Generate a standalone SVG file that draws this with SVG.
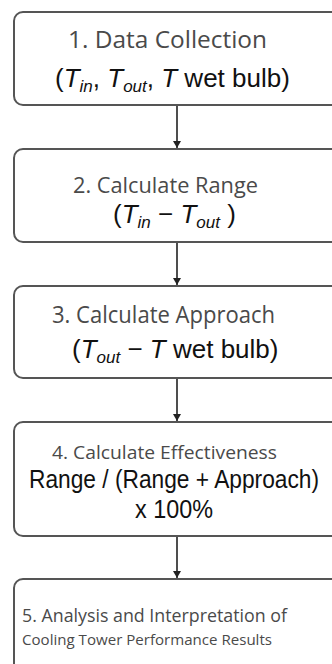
<svg xmlns="http://www.w3.org/2000/svg" width="332" height="664" viewBox="0 0 332 664">
<defs>
<style>
.box{fill:#fff;stroke:#555;stroke-width:2}
.h{font-family:"Open Sans","Liberation Sans",sans-serif;fill:#4a4a4a}
.f{font-family:"Liberation Sans",Arial,sans-serif;fill:#111;font-size:26px}
.i{font-style:italic}
.s{font-style:italic;font-size:17px}
.con{stroke:#222;stroke-width:1.6;fill:none}
</style>
<marker id="ah2" markerUnits="userSpaceOnUse" markerWidth="8" markerHeight="8" refX="4" refY="7" viewBox="0 0 8 8" orient="0">
<path d="M0,0 L8,0 L4,7 Z" fill="#222"/>
</marker>
</defs>
<rect width="332" height="664" fill="#fff"/>
<g id="connectors">
<line class="con" x1="177" y1="105" x2="177" y2="148" marker-end="url(#ah2)"/>
<line class="con" x1="177" y1="242" x2="177" y2="285" marker-end="url(#ah2)"/>
<line class="con" x1="177" y1="378" x2="177" y2="421" marker-end="url(#ah2)"/>
<line class="con" x1="177" y1="536" x2="177" y2="578" marker-end="url(#ah2)"/>
</g>
<g id="node1">
<rect class="box" x="14" y="12" width="330" height="93" rx="9"/>
<text class="h" x="68" y="48" font-size="23" textLength="199" lengthAdjust="spacingAndGlyphs">1. Data Collection</text>
<text class="f" x="55" y="87">(<tspan class="i">T</tspan><tspan class="s" dy="5">in</tspan><tspan dy="-5">, </tspan><tspan class="i">T</tspan><tspan class="s" dy="5">out</tspan><tspan dy="-5">, </tspan><tspan class="i">T</tspan> wet bulb)</text>
</g>
<g id="node2">
<rect class="box" x="14" y="149" width="330" height="93" rx="9"/>
<text class="h" x="73" y="193" font-size="22" textLength="185" lengthAdjust="spacingAndGlyphs">2. Calculate Range</text>
<text class="f" x="113" y="223">(<tspan class="i">T</tspan><tspan class="s" dy="5">in</tspan><tspan dy="-5"> − </tspan><tspan class="i">T</tspan><tspan class="s" dy="5">out</tspan><tspan dy="-5"> )</tspan></text>
</g>
<g id="node3">
<rect class="box" x="14" y="286" width="330" height="92" rx="9"/>
<text class="h" x="52" y="323" font-size="23" textLength="223" lengthAdjust="spacingAndGlyphs">3. Calculate Approach</text>
<text class="f" x="72" y="358">(<tspan class="i">T</tspan><tspan class="s" dy="5">out</tspan><tspan dy="-5"> − </tspan><tspan class="i">T</tspan> wet bulb)</text>
</g>
<g id="node4">
<rect class="box" x="14" y="422" width="330" height="114" rx="9"/>
<text class="h" x="52" y="459" font-size="18" textLength="225" lengthAdjust="spacingAndGlyphs">4. Calculate Effectiveness</text>
<text class="f" x="29" y="488" font-size="22" textLength="290" lengthAdjust="spacingAndGlyphs">Range / (Range + Approach)</text>
<text class="f" x="135" y="518" font-size="23" textLength="78" lengthAdjust="spacingAndGlyphs">x 100%</text>
</g>
<g id="node5">
<rect class="box" x="14" y="579" width="330" height="100" rx="9"/>
<text class="h" x="22" y="622" font-size="19" textLength="265" lengthAdjust="spacingAndGlyphs">5. Analysis and Interpretation of</text>
<text class="h" x="22" y="645" font-size="14" textLength="250" lengthAdjust="spacingAndGlyphs">Cooling Tower Performance Results</text>
</g>
</svg>
